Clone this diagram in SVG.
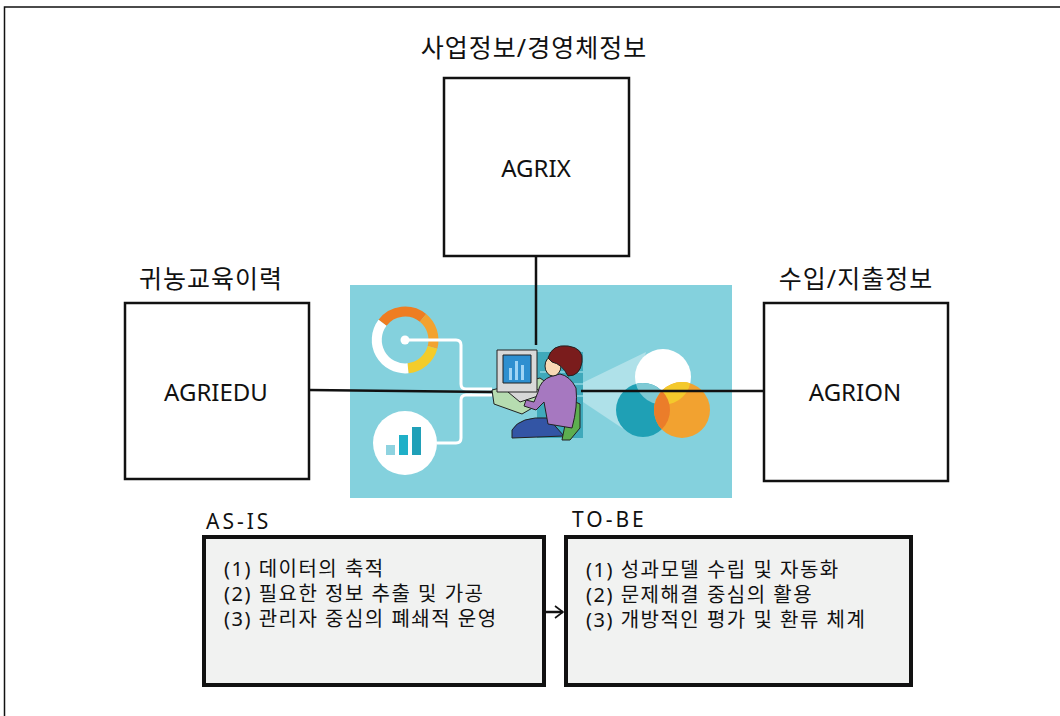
<svg xmlns="http://www.w3.org/2000/svg" width="1060" height="716" viewBox="0 0 1060 716">
  <style>
    .lbl { font-family: "Noto Sans", "Noto Sans CJK KR", sans-serif; fill: #111; }
    .cap { font-size: 25px; text-anchor: middle; letter-spacing: 1px; }
    .name { font-size: 24px; text-anchor: middle; }
    .item { font-size: 20px; letter-spacing: 1.5px; }
    .head { font-size: 21px; letter-spacing: 3px; }
    .sys { fill: #fff; stroke: #111; stroke-width: 2.5; }
    .state { fill: #f1f2f1; stroke: #111; stroke-width: 4; }
    .wire { stroke: #111; stroke-width: 2.5; fill: none; }
    .pipe { stroke: #fff; stroke-width: 3; fill: none; stroke-linejoin: round; }
  </style>
  <defs>
    <marker id="chev" viewBox="0 0 10 14" refX="9" refY="7" markerWidth="10" markerHeight="14" markerUnits="userSpaceOnUse" orient="auto">
      <path d="M1,1 L9,7 L1,13" fill="none" stroke="#111" stroke-width="1.6"/>
    </marker>
    <clipPath id="cTeal"><circle cx="643" cy="410" r="27"/></clipPath>
    <clipPath id="cWhite"><circle cx="663" cy="377" r="28"/></clipPath>
  </defs>

  <!-- page frame -->
  <rect x="4.5" y="7" width="1100" height="800" fill="#fff" stroke="#111" stroke-width="1.5"/>

  <!-- central illustration panel -->
  <g id="hub">
    <rect x="350" y="285" width="382" height="213" fill="#84d1dd"/>
    <!-- donut gauge -->
    <g fill="none" stroke-width="10">
      <path d="M382.5,322.8 A28.5,28.5 0 0 1 423,317.9" stroke="#ee7d22"/>
      <path d="M423,317.9 A28.5,28.5 0 0 1 432.5,347.4" stroke="#f2a22f"/>
      <path d="M432.5,347.4 A28.5,28.5 0 0 1 408,368.3" stroke="#f4cc2a"/>
      <path d="M408,368.3 A28.5,28.5 0 0 1 382.5,322.8" stroke="#ffffff"/>
    </g>
    <circle cx="405" cy="340" r="4.5" fill="#fff"/>
    <path class="pipe" d="M405,340 H456 Q461,340 461,345 V384 Q461,389 466,389 H492"/>
    <!-- bar chart badge -->
    <circle cx="405" cy="443" r="32" fill="#fff"/>
    <rect x="386" y="445" width="9" height="10" fill="#8fd3e0"/>
    <rect x="399" y="435" width="9" height="20" fill="#1fb0c8"/>
    <rect x="412" y="427" width="9" height="28" fill="#20a0b8"/>
    <path class="pipe" d="M437,443 H456 Q461,443 461,438 V400 Q461,395 466,395 H492"/>
    <!-- light beam -->
    <polygon points="580,384 646,352 628,432 580,400" fill="#ffffff" opacity="0.35"/>
    <!-- venn circles -->
    <circle cx="663" cy="377" r="28" fill="#ffffff"/>
    <circle cx="643" cy="410" r="27" fill="#1fa0b5"/>
    <circle cx="682" cy="410" r="28" fill="#f2a230"/>
    <circle cx="643" cy="410" r="27" fill="#7fcad5" clip-path="url(#cWhite)"/>
    <circle cx="682" cy="410" r="28" fill="#f4c92c" clip-path="url(#cWhite)"/>
    <circle cx="682" cy="410" r="28" fill="#eb7d2a" clip-path="url(#cTeal)"/>
    <!-- person at workstation -->
    <g stroke="#222" stroke-width="1" stroke-linejoin="round">
      <rect x="537" y="352" width="46" height="86" fill="#3fa9bb" stroke="none"/>
      <path d="M540,372 H583 M540,384 H583 M540,396 H583" stroke="#8fd6e2" stroke-width="1.5"/>
      <polygon points="492,390 540,378 560,392 522,414 494,404" fill="#b6dcb0"/>
      <polygon points="508,392 532,386 544,394 520,402" fill="#d7d7d7"/>
      <rect x="497" y="350" width="40" height="42" fill="#d9d9d9"/>
      <rect x="503" y="355" width="28" height="28" fill="#2e8fd0"/>
      <rect x="509" y="368" width="3" height="12" fill="#9fd4f5" stroke="none"/>
      <rect x="515" y="361" width="3" height="19" fill="#9fd4f5" stroke="none"/>
      <rect x="521" y="365" width="3" height="15" fill="#9fd4f5" stroke="none"/>
      <path d="M512,430 Q520,416 548,418 L564,436 L512,438 Z" fill="#3355a5"/>
      <path d="M556,408 Q572,398 580,404 L580,428 L570,440 L562,440 L566,420 Q560,416 556,418 Z" fill="#5dae4f"/>
      <path d="M552,376 Q540,380 538,392 L534,402 L526,400 L524,406 L536,410 L544,402 L548,424 L572,428 Q578,406 576,388 Q570,376 560,374 Z" fill="#a678c0"/>
      <ellipse cx="553" cy="366" rx="8" ry="10" fill="#f8d9b5"/>
      <path d="M548,358 Q552,344 568,346 Q584,348 582,362 Q580,376 568,376 Q562,364 552,362 Z" fill="#7a1c1c"/>
    </g>
  </g>

  <!-- source systems -->
  <g id="agrix">
    <rect class="sys" x="444" y="78" width="185" height="178"/>
    <text class="lbl cap" x="534" y="57">사업정보/경영체정보</text>
    <text class="lbl name" x="536" y="177">AGRIX</text>
  </g>
  <g id="agriedu">
    <rect class="sys" x="125" y="303" width="184" height="176"/>
    <text class="lbl cap" x="211" y="288">귀농교육이력</text>
    <text class="lbl name" x="216" y="401">AGRIEDU</text>
  </g>
  <g id="agrion">
    <rect class="sys" x="764" y="303" width="184" height="178"/>
    <text class="lbl cap" x="856" y="288">수입/지출정보</text>
    <text class="lbl name" x="855" y="401">AGRION</text>
  </g>

  <!-- as-is / to-be states -->
  <g id="as-is">
    <text class="lbl head" x="206" y="529">AS-IS</text>
    <rect class="state" x="204" y="537" width="340" height="148"/>
    <text class="lbl item" x="224" y="576">(1) 데이터의 축적</text>
    <text class="lbl item" x="224" y="601">(2) 필요한 정보 추출 및 가공</text>
    <text class="lbl item" x="224" y="626">(3) 관리자 중심의 폐쇄적 운영</text>
  </g>
  <g id="to-be">
    <text class="lbl head" x="572" y="527">TO-BE</text>
    <rect class="state" x="566" y="537" width="345" height="148"/>
    <text class="lbl item" x="586" y="577">(1) 성과모델 수립 및 자동화</text>
    <text class="lbl item" x="586" y="602">(2) 문제해결 중심의 활용</text>
    <text class="lbl item" x="586" y="627">(3) 개방적인 평가 및 환류 체계</text>
  </g>

  <!-- connectors -->
  <g id="connectors">
    <line class="wire" x1="536" y1="256" x2="536" y2="345"/>
    <line class="wire" x1="309" y1="390" x2="492" y2="392"/>
    <line class="wire" x1="581" y1="391" x2="764" y2="391"/>
    <line class="wire" x1="546" y1="612" x2="563" y2="612" stroke-width="1.6" marker-end="url(#chev)"/>
  </g>
</svg>
